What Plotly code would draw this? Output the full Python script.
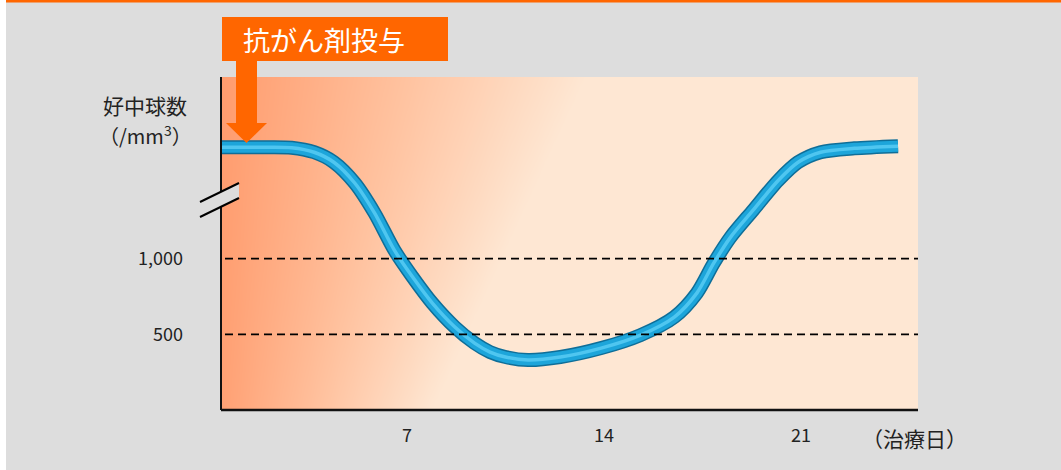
import plotly.graph_objects as go
import numpy as np

# ---- data ----
days = [0.4, 1.8, 2.9, 3.7, 4.4, 5.15, 5.85, 6.55, 7.2, 7.9, 8.7, 9.4, 9.95, 10.5,
        11.3, 12.45, 13.9, 15.3, 16.5, 17.3, 17.9, 18.5, 19.3, 20.2, 20.9, 21.7, 22.9, 24.45]
neutrophils = [1736, 1736, 1733, 1703, 1637, 1498, 1300, 1056, 878, 706, 548, 442, 383, 350,
               330, 350, 409, 495, 614, 772, 970, 1142, 1320, 1518, 1637, 1703, 1729, 1743]
x_tick_vals = [7, 14, 21]
x_tick_text = ["7", "14", "21"]
y_tick_vals = [500, 1000]
y_tick_text = ["500", "1,000"]
ref_levels = [500, 1000]
label_text = "抗がん剤投与"
y_title_1 = "好中球数"
y_title_2 = "（/mm<sup>3</sup>）"
x_title = "（治療日）"

# ---- layout geometry (pixels) ----
W, H = 1061, 470
L, R, T, B = 221, 143, 77, 60
PW, PH = W - L - R, H - T - B
X_RANGE = [0.39, 25.16]
Y_RANGE = [0, 2200]
FONT = "Noto Sans CJK JP"
TXT = "#222222"

def px_to_paper_x(px):
    return (px - L) / PW

def px_to_paper_y(py):
    return (H - B - py) / PH

def dx_to_px(d):
    return L + (d - X_RANGE[0]) / (X_RANGE[1] - X_RANGE[0]) * PW

def dy_to_px(v):
    return H - B - (v - Y_RANGE[0]) / (Y_RANGE[1] - Y_RANGE[0]) * PH

fig = go.Figure()

# background gradient for the plot area
gx = np.linspace(X_RANGE[0], X_RANGE[1], 160)
gy = np.linspace(Y_RANGE[0], Y_RANGE[1], 40)
z = []
for v in gy:
    py = dy_to_px(v)
    row = []
    for d in gx:
        px = dx_to_px(d)
        t = (px - L + 14 * (py - T) / PH) / (225 + 0.42 * (H - B - py))
        row.append(min(1.0, max(0.0, t)))
    z.append(row)
fig.add_trace(go.Heatmap(
    x=gx, y=gy, z=z, zmin=0, zmax=1, zsmooth="best", showscale=False,
    hoverinfo="skip",
    colorscale=[[0, "#FF9C6E"], [0.5, "#FFC29F"], [1, "#FEE7D3"]],
))

# the tube-like curve
for w, c in [(14, "#0F6E98"), (11, "#1DA5DA"), (3.5, "#4FC6F0")]:
    fig.add_trace(go.Scatter(
        x=days, y=neutrophils, mode="lines",
        line=dict(color=c, width=w, shape="spline", smoothing=0.8),
        hoverinfo="skip", showlegend=False,
    ))

shapes = []
# white strip on the far left, orange top rule
shapes.append(dict(type="rect", xref="paper", yref="paper",
                   x0=px_to_paper_x(0), x1=px_to_paper_x(6), y0=px_to_paper_y(H), y1=px_to_paper_y(0),
                   fillcolor="white", line=dict(width=0), layer="below"))
shapes.append(dict(type="rect", xref="paper", yref="paper",
                   x0=px_to_paper_x(6), x1=px_to_paper_x(W), y0=px_to_paper_y(2.5), y1=px_to_paper_y(0),
                   fillcolor="#FF6600", line=dict(width=0), layer="above"))
# dashed reference lines
for lv in ref_levels:
    shapes.append(dict(type="line", xref="paper", yref="y",
                       x0=px_to_paper_x(225), x1=1, y0=lv, y1=lv,
                       line=dict(color="black", width=1.8, dash="8px,5px"), layer="above"))
# axis lines
shapes.append(dict(type="line", xref="paper", yref="paper", x0=0, x1=0, y0=0, y1=1,
                   line=dict(color="#111111", width=2), layer="above"))
shapes.append(dict(type="line", xref="paper", yref="paper", x0=0, x1=1, y0=0, y1=0,
                   line=dict(color="#111111", width=2.5), layer="above"))
# axis break mark
shapes.append(dict(type="path", xref="paper", yref="paper",
                   path="M {a},{b} L {c},{d} L {c},{e} L {a},{f} Z".format(
                       a=px_to_paper_x(200), b=px_to_paper_y(202), c=px_to_paper_x(239),
                       d=px_to_paper_y(183), e=px_to_paper_y(198), f=px_to_paper_y(217)),
                   fillcolor="#DDDDDD", line=dict(width=0), layer="above"))
for y1, y2 in [(202, 183), (217, 198)]:
    shapes.append(dict(type="line", xref="paper", yref="paper",
                       x0=px_to_paper_x(200), x1=px_to_paper_x(239),
                       y0=px_to_paper_y(y1), y1=px_to_paper_y(y2),
                       line=dict(color="black", width=2), layer="above"))
# label box
shapes.append(dict(type="rect", xref="paper", yref="paper",
                   x0=px_to_paper_x(222), x1=px_to_paper_x(448),
                   y0=px_to_paper_y(61), y1=px_to_paper_y(17),
                   fillcolor="#FF6600", line=dict(width=0), layer="above"))
# arrow shaft + head
shapes.append(dict(type="path", xref="paper", yref="paper",
                   path="M {a},{t} L {b},{t} L {b},{m} L {hr},{m} L {tip},{bot} L {hl},{m} L {a},{m} Z".format(
                       a=px_to_paper_x(236), b=px_to_paper_x(257), t=px_to_paper_y(60),
                       m=px_to_paper_y(123), hr=px_to_paper_x(267), hl=px_to_paper_x(226),
                       tip=px_to_paper_x(246.5), bot=px_to_paper_y(143)),
                   fillcolor="#FF6600", line=dict(width=0), layer="above"))

annotations = [
    dict(text=label_text, xref="paper", yref="paper", x=px_to_paper_x(241), y=px_to_paper_y(40),
         xanchor="left", yanchor="middle", showarrow=False,
         font=dict(family=FONT, size=27, color="white")),
    dict(text=y_title_1, xref="paper", yref="paper", x=px_to_paper_x(189), y=px_to_paper_y(105),
         xanchor="right", yanchor="middle", showarrow=False,
         font=dict(family=FONT, size=21, color=TXT)),
    dict(text=y_title_2, xref="paper", yref="paper", x=px_to_paper_x(194), y=px_to_paper_y(135),
         xanchor="right", yanchor="middle", showarrow=False,
         font=dict(family=FONT, size=20, color=TXT)),
    dict(text=x_title, xref="paper", yref="paper", x=px_to_paper_x(860), y=px_to_paper_y(438),
         xanchor="left", yanchor="middle", showarrow=False,
         font=dict(family=FONT, size=21, color=TXT)),
]

fig.update_layout(
    width=W, height=H,
    margin=dict(l=L, r=R, t=T, b=B, pad=0),
    paper_bgcolor="#DDDDDD", plot_bgcolor="#FEE8D5",
    showlegend=False,
    shapes=shapes, annotations=annotations,
    xaxis=dict(range=X_RANGE, showgrid=False, zeroline=False, showline=False,
               tickvals=x_tick_vals, ticktext=x_tick_text, ticks="",
               ticklabelstandoff=13,
               tickfont=dict(family=FONT, size=18, color=TXT)),
    yaxis=dict(range=Y_RANGE, showgrid=False, zeroline=False, showline=False,
               tickvals=y_tick_vals, ticktext=y_tick_text, ticks="",
               ticklabelstandoff=37,
               tickfont=dict(family=FONT, size=18, color=TXT)),
)

fig.write_html("out.html")
